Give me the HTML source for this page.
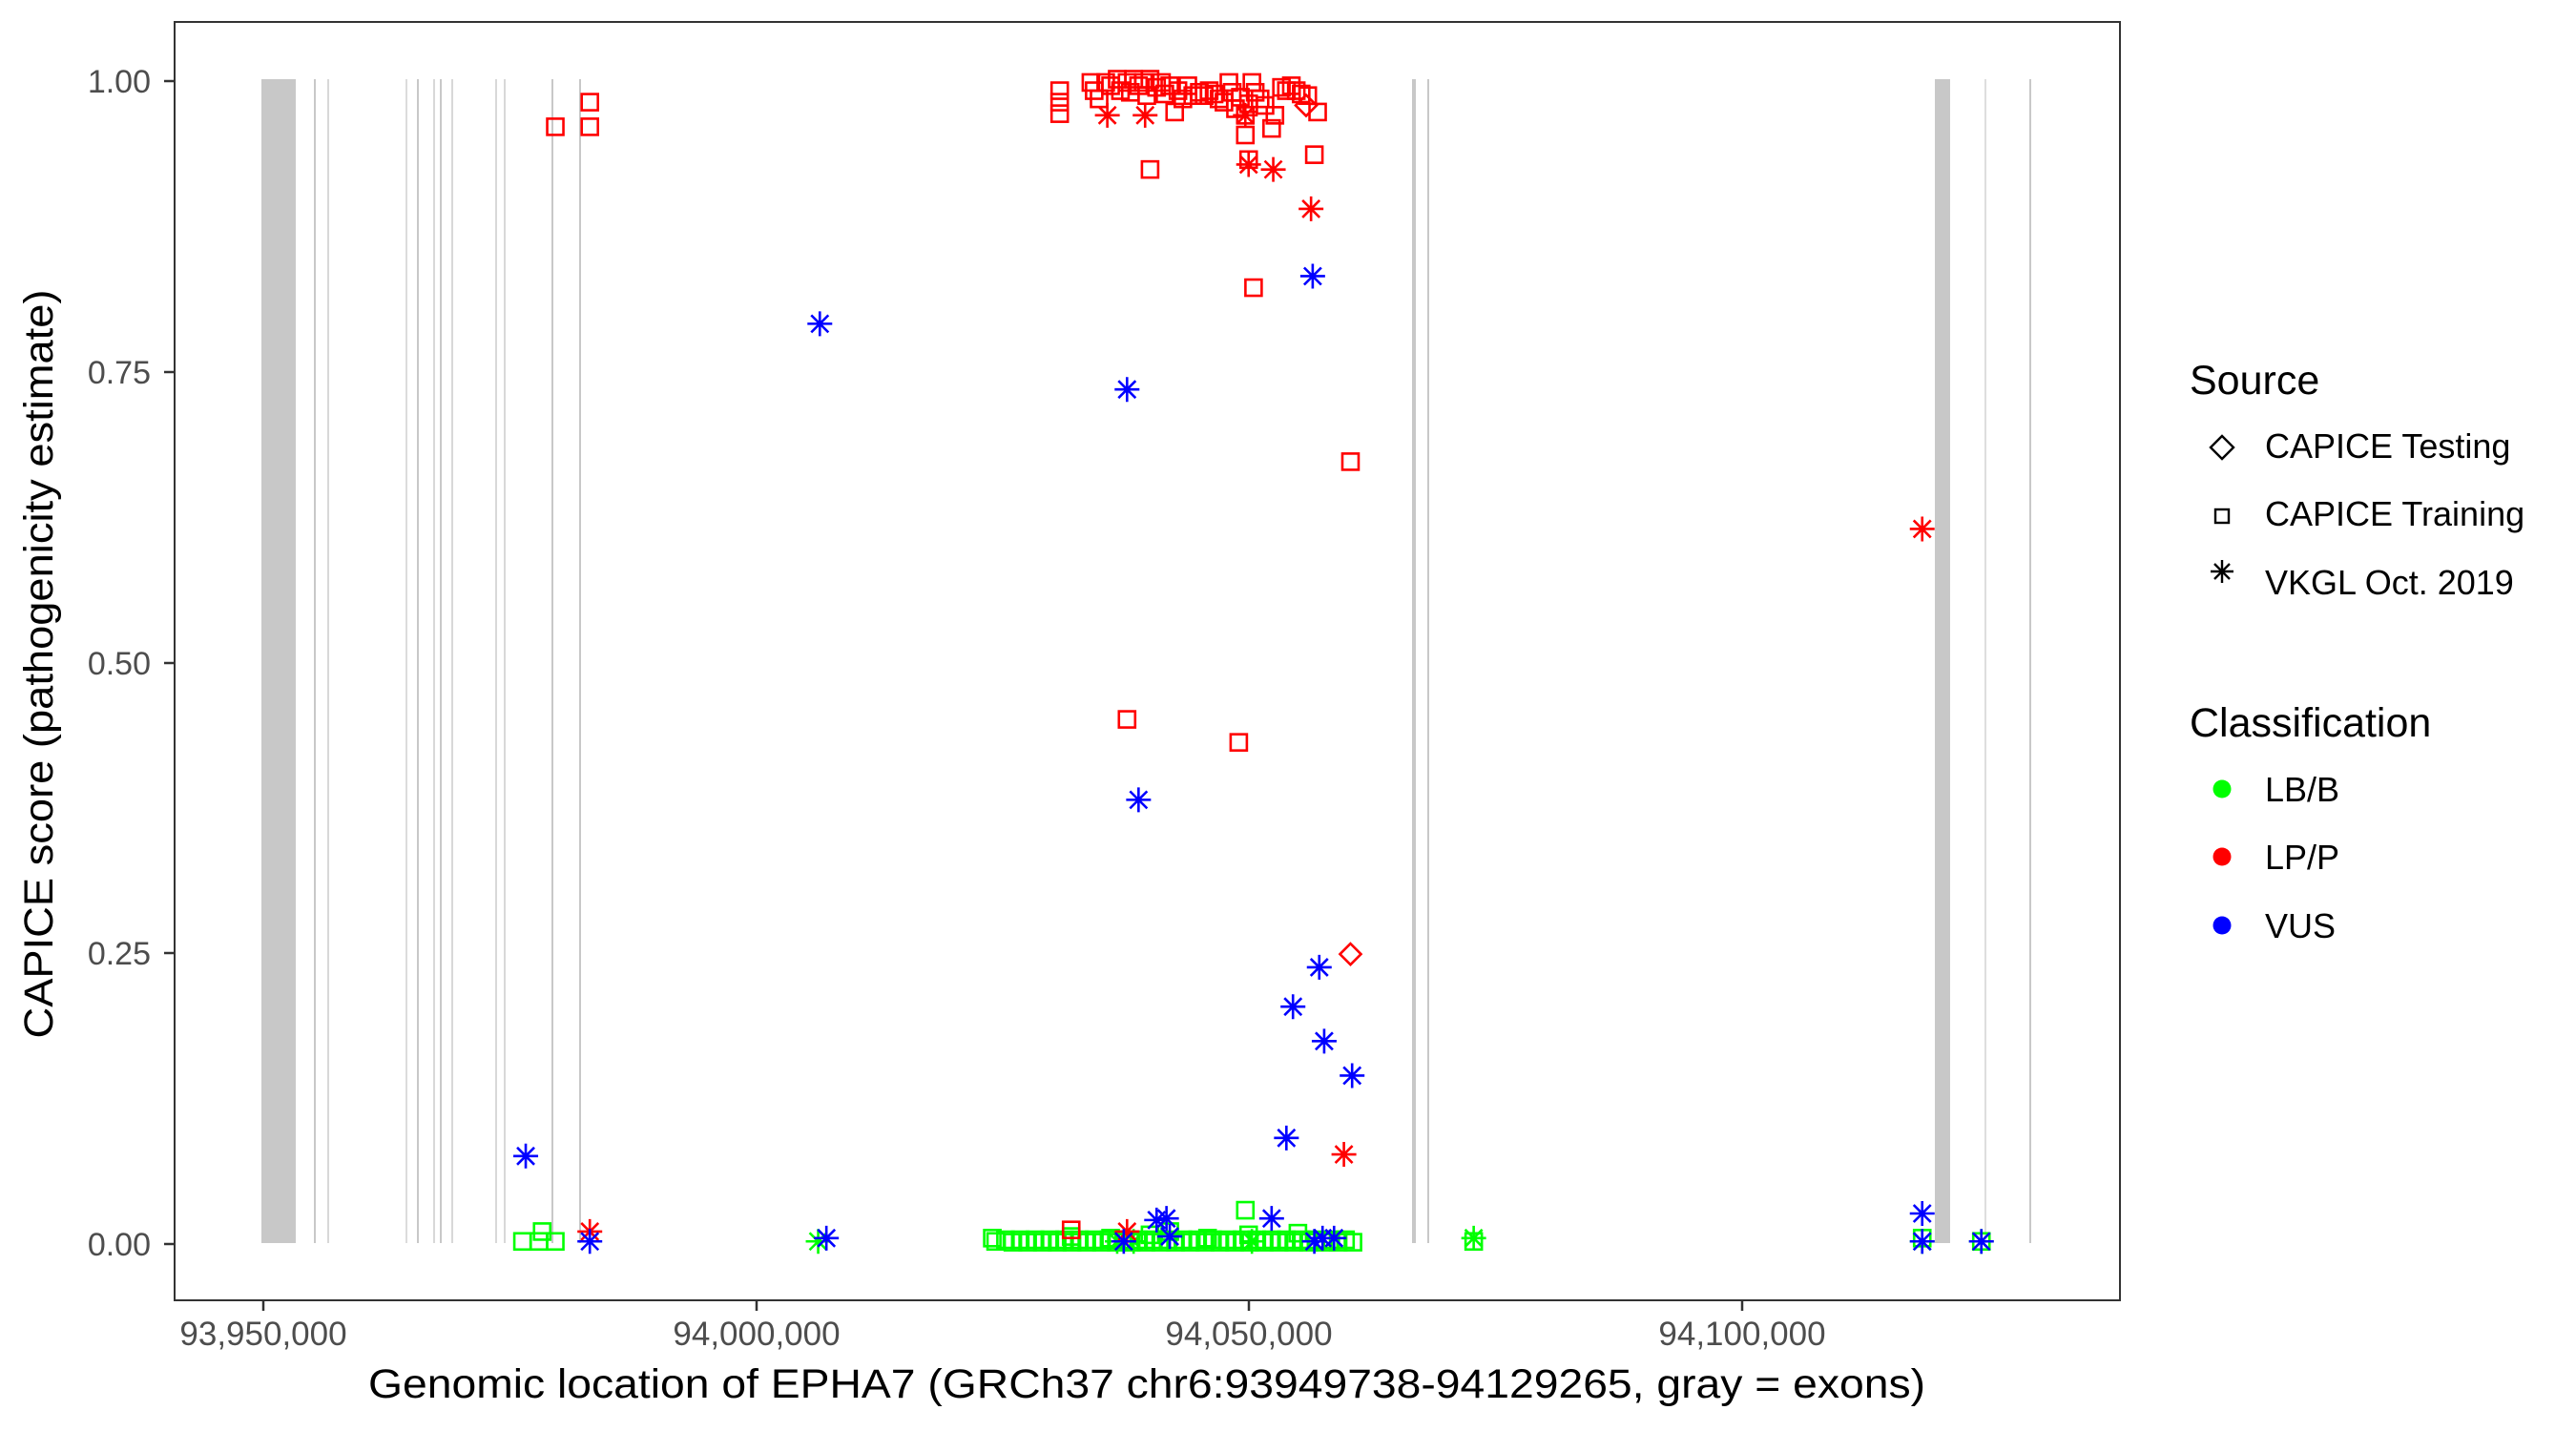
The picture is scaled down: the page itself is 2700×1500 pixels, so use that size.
<!DOCTYPE html>
<html><head><meta charset="utf-8"><style>
html,body{margin:0;padding:0;background:#fff;}
svg{display:block;font-family:"Liberation Sans",Arial,sans-serif;}
</style></head><body>
<svg id="s" width="2700" height="1500" viewBox="0 0 2700 1500" xmlns="http://www.w3.org/2000/svg">
<rect width="2700" height="1500" fill="#fff"/>
<g id="exons" fill="#c8c8c8">
<rect x="274" y="83" width="36" height="1220"/>
<rect x="329" y="83" width="2" height="1220"/>
<rect x="343" y="83" width="2" height="1220" fill="#d8d8d8"/>
<rect x="425" y="83" width="2" height="1220" fill="#dcdcdc"/>
<rect x="437" y="83" width="2" height="1220"/>
<rect x="454" y="83" width="2" height="1220" fill="#d8d8d8"/>
<rect x="461" y="83" width="2" height="1220"/>
<rect x="473" y="83" width="2" height="1220" fill="#d8d8d8"/>
<rect x="519" y="83" width="2" height="1220" fill="#d8d8d8"/>
<rect x="528" y="83" width="2" height="1220" fill="#d8d8d8"/>
<rect x="578" y="83" width="2" height="1220"/>
<rect x="607" y="83" width="2" height="1220"/>
<rect x="1480" y="83" width="4" height="1220"/>
<rect x="1496" y="83" width="2" height="1220"/>
<rect x="2028" y="83" width="16" height="1220"/>
<rect x="2080" y="83" width="2" height="1220" fill="#dedede"/>
<rect x="2127" y="83" width="2" height="1220"/>
</g>
<g id="pts" fill="none" stroke-width="2.6"></g>
<rect x="183" y="23" width="2039" height="1340" fill="none" stroke="#333" stroke-width="2"/>
<g stroke="#333" stroke-width="2.5">
<line x1="172" y1="85" x2="183" y2="85"/><line x1="172" y1="390" x2="183" y2="390"/>
<line x1="172" y1="695" x2="183" y2="695"/><line x1="172" y1="999" x2="183" y2="999"/>
<line x1="172" y1="1304" x2="183" y2="1304"/>
<line x1="276" y1="1363" x2="276" y2="1374"/><line x1="793" y1="1363" x2="793" y2="1374"/>
<line x1="1309" y1="1363" x2="1309" y2="1374"/><line x1="1826" y1="1363" x2="1826" y2="1374"/>
</g>
<g fill="#4d4d4d" font-size="34" text-anchor="end">
<text x="158" y="97">1.00</text><text x="158" y="402">0.75</text>
<text x="158" y="707">0.50</text><text x="158" y="1011">0.25</text>
<text x="158" y="1316">0.00</text>
</g>
<g fill="#4d4d4d" font-size="35" text-anchor="middle">
<text x="276" y="1410">93,950,000</text><text x="793" y="1410">94,000,000</text>
<text x="1309" y="1410">94,050,000</text><text x="1826" y="1410">94,100,000</text>
</g>
<text x="1202" y="1465" font-size="43" text-anchor="middle" textLength="1632" lengthAdjust="spacingAndGlyphs">Genomic location of EPHA7 (GRCh37 chr6:93949738-94129265, gray = exons)</text>
<text transform="translate(55,696) rotate(-90)" font-size="43" text-anchor="middle" textLength="785" lengthAdjust="spacingAndGlyphs">CAPICE score (pathogenicity estimate)</text>
<text x="2295" y="413" font-size="43">Source</text>
<g font-size="36">
<text x="2374" y="480">CAPICE Testing</text>
<text x="2374" y="551">CAPICE Training</text>
<text x="2374" y="623">VKGL Oct. 2019</text>
</g>
<g stroke="#000" stroke-width="2.4" fill="none">
<polygon points="2329,457 2341,469 2329,481 2317,469"/>
<rect x="2322" y="534" width="14" height="14"/>
<path d="M2317,610 H2341 M2329,598 V622 M2321,602 L2337,618 M2337,602 L2321,618" transform="translate(0,-11)"/>
</g>
<text x="2295" y="772" font-size="43">Classification</text>
<g font-size="36">
<text x="2374" y="840">LB/B</text><text x="2374" y="911">LP/P</text><text x="2374" y="983">VUS</text>
</g>
<circle cx="2329" cy="827" r="9.5" fill="#00ff00"/>
<circle cx="2329" cy="898" r="9.5" fill="#ff0000"/>
<circle cx="2329" cy="970" r="9.5" fill="#0000ff"/>
</svg>
<script>
var NS="http://www.w3.org/2000/svg",g=document.getElementById("pts");
function X(x){return x*1.722;}function Y(y){return 83+(y-48)*1.7207;}
function add(list,shape,col){list.forEach(function(p){var x=X(p[0]),y=Y(p[1]),e;
if(shape=="s"){e=document.createElementNS(NS,"rect");e.setAttribute("x",x-8.5);e.setAttribute("y",y-8.5);e.setAttribute("width",17);e.setAttribute("height",17);}
else if(shape=="d"){e=document.createElementNS(NS,"polygon");e.setAttribute("points",[x,y-11,x+11,y,x,y+11,x-11,y].join(","));}
else{e=document.createElementNS(NS,"path");var r=13,q=9;e.setAttribute("d","M"+(x-r)+","+y+"H"+(x+r)+"M"+x+","+(y-r)+"V"+(y+r)+"M"+(x-q)+","+(y-q)+"L"+(x+q)+","+(y+q)+"M"+(x+q)+","+(y-q)+"L"+(x-q)+","+(y+q));}
e.setAttribute("stroke",col);g.appendChild(e);});}
var G="#00ff00",R="#ff0000",B="#0000ff";
var gs=[[318,756],[328,756],[330,750],[338,756],[604,754],[606,756],[758,737],[897,756],[1170,754],[1206,756]];
for(var x=612;x<=825;x+=4.5){gs.push([x,756+((x*7)%3)-1]);}
[[652,753],[676,754],[700,752],[712,750],[735,754],[760,752],[790,751]].forEach(function(p){gs.push(p)});
add(gs,"s",G);
add([[498,756],[690,756],[680,756],[762,756],[897,754],[1170,756],[1206,756]],"a",G);
add([[338,77],[359,62],[359,77],[645,55],[645,62],[645,69],[664,50],[666,55],[669,60],[673,50],[676,52],[680,48],[682,55],[686,50],[688,56],[690,48],[693,52],[696,50],[698,58],[700,48],[704,53],[707,50],[709,57],[712,52],[715,68],[717,55],[720,60],[723,52],[726,58],[730,56],[733,58],[736,55],[739,57],[742,60],[745,62],[748,50],[750,56],[752,66],[755,59],[758,70],[758,82],[760,63],[762,50],[764,56],[767,60],[770,64],[774,78],[776,70],[780,53],[783,55],[786,52],[789,55],[792,57],[796,58],[802,68],[800,94],[700,103],[760,97],[763,175],[822,281],[686,438],[754,452],[652,749]],"s",R);
add([[822,581],[795,64]],"d",R);
add([[674,70],[697,70],[758,70],[760,100],[775,103],[798,127],[1170,322],[818,703],[359,750],[686,750]],"a",R);
add([[499,197],[686,237],[799,168],[693,487],[803,589],[787,613],[806,634],[823,655],[783,693],[320,704],[774,742],[704,743],[710,742],[1170,739],[359,756],[503,754],[684,756],[712,753],[800,756],[805,754],[812,754],[1170,756],[1206,756]],"a",B);
</script>
</body></html>
